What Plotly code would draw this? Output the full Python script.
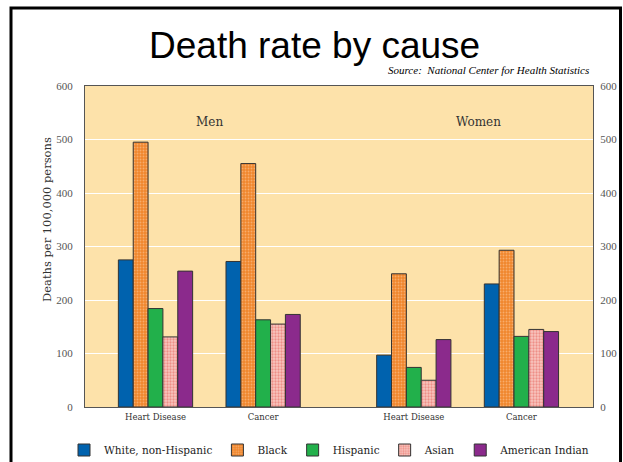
import plotly.graph_objects as go

# Category slots: two causes for men, a gap, then two causes for women
group_pos = [0, 1, 2.4, 3.4]
group_labels = ["Heart Disease", "Cancer", "Heart Disease", "Cancer"]

# Deaths per 100,000 persons (Men: Heart, Cancer; Women: Heart, Cancer)
white_non_hispanic = [275, 272, 97, 230]
black = [495, 455, 249, 293]
hispanic = [184, 163, 74, 132]
asian = [131, 155, 50, 145]
american_indian = [254, 173, 126, 141]

series = [
    ("White, non-Hispanic", white_non_hispanic, "#0062AE", None),
    ("Black", black, "#F08A32", dict(shape=".", fgcolor="#FDD2AC", bgcolor="#F0862C", size=3, solidity=0.3)),
    ("Hispanic", hispanic, "#22B04B", None),
    ("Asian", asian, "#F5BDB6", dict(shape=".", fgcolor="#E5574F", bgcolor="#F7C6BF", size=3, solidity=0.45)),
    ("American Indian", american_indian, "#8B2A8C", None),
]

serif = "DejaVu Serif"
tick_serif = "Liberation Serif"

fig = go.Figure()
for name, vals, color, pattern in series:
    marker = dict(color=color, line=dict(color="#333333", width=1))
    if pattern:
        marker["pattern"] = pattern
    fig.add_trace(go.Bar(name=name, x=group_pos, y=vals, marker=marker))

# invisible companion trace so the right-hand value axis is drawn
fig.add_trace(go.Scatter(x=group_pos, y=white_non_hispanic, yaxis="y2",
                         mode="markers", marker=dict(opacity=0),
                         showlegend=False, hoverinfo="skip"))

W, H = 623, 462
L, R, T, B = 85, 30, 86, 55
pw, ph = W - L - R, H - T - B

def px_x(x):
    return (x - L) / pw

def px_y(y):
    return (H - B - y) / ph

fig.update_layout(
    width=W, height=H,
    margin=dict(l=L, r=R, t=T, b=B, autoexpand=False),
    paper_bgcolor="white",
    plot_bgcolor="#FDE2AA",
    barmode="group",
    bargap=0.31,
    bargroupgap=0,
    font=dict(family=serif, color="#333333"),
    xaxis=dict(
        range=[-0.655, 4.065],
        tickvals=group_pos, ticktext=group_labels,
        tickfont=dict(family=serif, size=8.5, color="#333333"),
        showgrid=False, zeroline=False,
        showline=True, linecolor="#555555", linewidth=1, mirror=True,
        ticks="", fixedrange=True, ticklabelstandoff=2,
    ),
    yaxis=dict(
        range=[0, 600], dtick=100,
        tickfont=dict(family=tick_serif, size=11, color="#555555"),
        gridcolor="white", gridwidth=1, zeroline=False,
        showline=True, linecolor="#555555", linewidth=1,
        ticks="", ticklabelstandoff=9,
    ),
    yaxis2=dict(
        range=[0, 600], dtick=100, overlaying="y", side="right",
        tickfont=dict(family=tick_serif, size=11, color="#555555"),
        showgrid=False, zeroline=False,
        showline=True, linecolor="#555555", linewidth=1,
        ticks="", ticklabelstandoff=4,
    ),
    showlegend=True,
    legend=dict(
        orientation="h", xref="paper", yref="paper",
        x=px_x(64), xanchor="left", y=px_y(450), yanchor="middle",
        font=dict(family=serif, size=10.5, color="#222222"),
        bgcolor="rgba(0,0,0,0)", traceorder="normal",
    ),
    annotations=[
        dict(text="Death rate by cause", xref="paper", yref="paper",
             x=px_x(314), y=px_y(46), xanchor="center", yanchor="middle",
             showarrow=False,
             font=dict(family="Liberation Sans", size=37, color="black")),
        dict(text="<i>Source:  National Center for Health Statistics</i>",
             xref="paper", yref="paper", x=px_x(591), y=px_y(70),
             xanchor="right", yanchor="middle", showarrow=False,
             font=dict(family="Liberation Serif", size=11, color="black")),
        dict(text="Deaths per 100,000 persons", xref="paper", yref="paper",
             x=px_x(47), y=px_y(220), textangle=-90,
             xanchor="center", yanchor="middle", showarrow=False,
             font=dict(family=serif, size=11.5, color="#333333")),
        dict(text="Men", xref="x", yref="paper", x=0.5, y=px_y(122),
             xanchor="center", yanchor="middle", showarrow=False,
             font=dict(family=serif, size=12, color="#333333")),
        dict(text="Women", xref="x", yref="paper", x=3.0, y=px_y(122),
             xanchor="center", yanchor="middle", showarrow=False,
             font=dict(family=serif, size=12, color="#333333")),
    ],
    shapes=[
        dict(type="rect", xref="paper", yref="paper",
             x0=px_x(11), x1=px_x(620.5), y0=px_y(480), y1=px_y(8),
             line=dict(color="black", width=3), fillcolor="rgba(0,0,0,0)",
             layer="above"),
    ],
)

fig.write_html("out.html")
